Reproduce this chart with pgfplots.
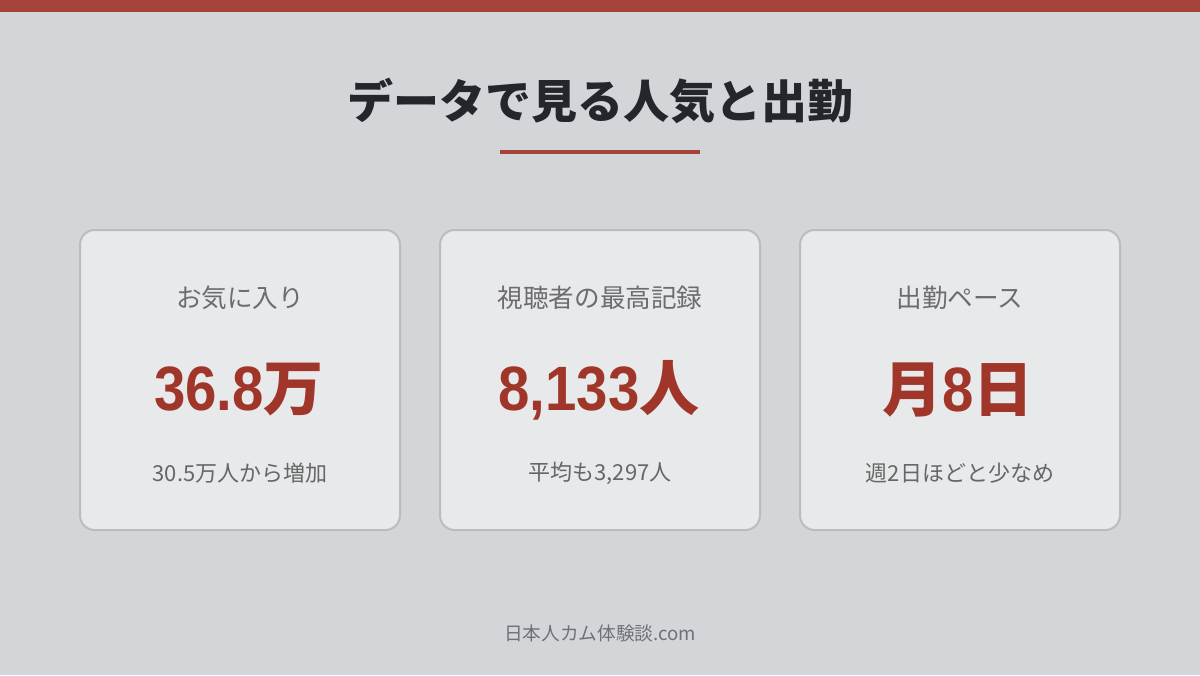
\documentclass[border=0pt]{standalone}
\usepackage{pgfplots}
\pgfplotsset{compat=1.18}
\usepackage{fontspec}
\setmainfont{Noto Sans CJK JP}
\newfontfamily\numfont[FakeStretch=0.9]{Liberation Sans}
\definecolor{bg}{HTML}{D2D6D9}
\definecolor{accent}{HTML}{A5433A}
\definecolor{bignum}{HTML}{A0352A}
\definecolor{cardfill}{HTML}{E7E9EB}
\definecolor{cardline}{HTML}{BABDC0}
\definecolor{titlec}{HTML}{23272B}
\definecolor{labelc}{HTML}{6C6C6E}
\definecolor{subc}{HTML}{666666}
\definecolor{footc}{HTML}{6E7277}
\newcommand\bignum[1]{{\fontsize{47}{50}\selectfont\numfont\bfseries #1}}
\begin{document}
\begin{tikzpicture}
\begin{axis}[
    width=900pt, height=506.25pt,
    scale only axis,
    hide axis,
    xmin=0, xmax=1200,
    ymin=0, ymax=675,
    y dir=reverse,
    clip=false,
]
\addplot[draw=none] coordinates {(0,0) (1200,675)};
% background and top bar
\fill[bg] (axis cs:0,0) rectangle (axis cs:1200,675);
\fill[accent] (axis cs:0,0) rectangle (axis cs:1200,12);
% title
\node[text=titlec, font=\fontsize{34.5}{38}\selectfont\bfseries] at (axis cs:600,101) {データで見る人気と出勤};
\fill[accent] (axis cs:500,150) rectangle (axis cs:700,154);
% cards
\pgfplotsinvokeforeach{80,440,800}{
  \filldraw[fill=cardfill, draw=cardline, line width=1.5pt, rounded corners=11pt]
    (axis cs:#1,230) rectangle (axis cs:#1+320,530);
}
% labels
\node[text=labelc, font=\fontsize{19.2}{21}\selectfont] at (axis cs:240,298) {お気に入り};
\node[text=labelc, font=\fontsize{19.2}{21}\selectfont] at (axis cs:600,298) {視聴者の最高記録};
\node[text=labelc, font=\fontsize{19.2}{21}\selectfont] at (axis cs:960,298) {出勤ペース};
% big numbers
\node[text=bignum, font=\fontsize{45}{48}\selectfont\bfseries] at (axis cs:239,390) {\bignum{36.8}万};
\node[text=bignum, font=\fontsize{45}{48}\selectfont\bfseries] at (axis cs:599,390) {\bignum{8,133}人};
\node[text=bignum, font=\fontsize{45}{48}\selectfont\bfseries] at (axis cs:958,390) {月\bignum{8}日};
% sub texts
\node[text=subc, font=\fontsize{16.5}{18}\selectfont] at (axis cs:240,473) {30.5万人から増加};
\node[text=subc, font=\fontsize{16.5}{18}\selectfont] at (axis cs:600,473) {平均も3,297人};
\node[text=subc, font=\fontsize{16.5}{18}\selectfont] at (axis cs:960,473) {週2日ほどと少なめ};
% footer
\node[text=footc, font=\fontsize{14}{16}\selectfont] at (axis cs:600,633) {日本人カム体験談.com};
\end{axis}
\end{tikzpicture}
\end{document}
